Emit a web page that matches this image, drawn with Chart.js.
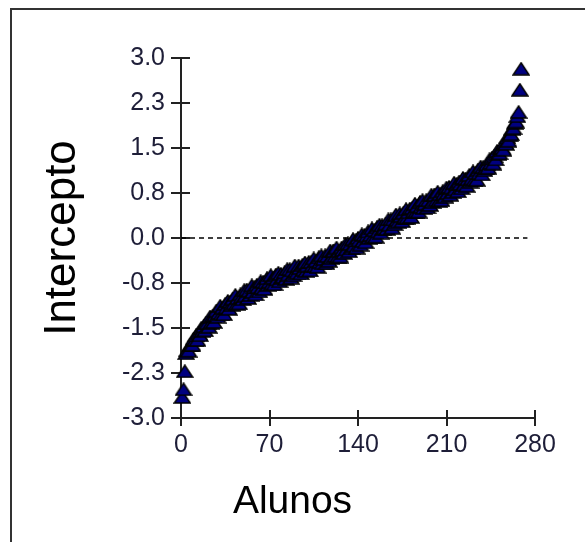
<!DOCTYPE html>
<html>
<head>
<meta charset="utf-8">
<script src="https://cdn.jsdelivr.net/npm/chart.js@4/dist/chart.umd.min.js"></script>
<style>
  html, body { margin: 0; padding: 0; background: #fff; }
  canvas { display: block; }
</style>
</head>
<body>
<canvas id="chart" width="585" height="542"></canvas>
<script>
// intercept per student, in plotting order
const interceptos = [
  -2.65, -2.52, -2.22, -1.92, -1.87, -1.88, -1.79, -1.78, -1.78, -1.68,
  -1.70, -1.62, -1.70, -1.59, -1.62, -1.50, -1.55, -1.47, -1.54, -1.41,
  -1.42, -1.48, -1.31, -1.41, -1.30, -1.40, -1.28, -1.21, -1.31, -1.25,
  -1.13, -1.27, -1.16, -1.27, -1.10, -1.16, -1.05, -1.18, -1.06, -1.11,
  -1.01, -1.09, -0.95, -1.10, -1.00, -1.09, -0.94, -0.98, -1.02, -0.87,
  -0.96, -0.86, -1.00, -0.88, -0.95, -0.79, -0.90, -0.82, -0.94, -0.78,
  -0.82, -0.89, -0.72, -0.83, -0.73, -0.85, -0.74, -0.67, -0.78, -0.73,
  -0.62, -0.76, -0.66, -0.77, -0.61, -0.69, -0.58, -0.72, -0.60, -0.66,
  -0.65, -0.57, -0.68, -0.52, -0.61, -0.52, -0.66, -0.54, -0.62, -0.46,
  -0.55, -0.58, -0.46, -0.50, -0.59, -0.45, -0.53, -0.41, -0.55, -0.46,
  -0.40, -0.54, -0.40, -0.46, -0.34, -0.47, -0.38, -0.48, -0.32, -0.40,
  -0.29, -0.42, -0.35, -0.29, -0.42, -0.30, -0.38, -0.21, -0.33, -0.22,
  -0.21, -0.30, -0.16, -0.31, -0.21, -0.31, -0.16, -0.20, -0.25, -0.10,
  -0.19, -0.09, -0.22, -0.10, -0.17, -0.02, -0.13, -0.04, -0.16, 0.00,
  -0.04, -0.11, 0.06, -0.05, 0.05, -0.07, 0.04, 0.11, 0.00, 0.05,
  0.16, 0.02, 0.13, 0.02, 0.18, 0.11, 0.22, 0.09, 0.21, 0.15,
  0.16, 0.24, 0.15, 0.31, 0.22, 0.31, 0.17, 0.31, 0.23, 0.39,
  0.30, 0.27, 0.41, 0.37, 0.28, 0.42, 0.34, 0.48, 0.34, 0.43,
  0.49, 0.35, 0.50, 0.44, 0.57, 0.44, 0.53, 0.44, 0.60, 0.52,
  0.63, 0.50, 0.57, 0.63, 0.51, 0.63, 0.55, 0.72, 0.60, 0.71,
  0.72, 0.63, 0.77, 0.62, 0.73, 0.63, 0.78, 0.74, 0.69, 0.84,
  0.75, 0.85, 0.72, 0.84, 0.77, 0.92, 0.81, 0.90, 0.78, 0.94,
  0.90, 0.83, 1.00, 0.89, 0.99, 0.87, 0.98, 1.05, 0.94, 0.99,
  1.11, 0.97, 1.08, 0.97, 1.14, 1.08, 1.19, 1.06, 1.18, 1.13,
  1.16, 1.23, 1.17, 1.31, 1.25, 1.34, 1.24, 1.36, 1.31, 1.45,
  1.40, 1.41, 1.50, 1.50, 1.47, 1.59, 1.57, 1.68, 1.62, 1.71,
  1.73, 1.82, 1.83, 1.92, 1.94, 2.03, 2.10, 2.47, 2.82
];

const xTicks = [0, 70, 140, 210, 280];
const yTicks = [-3, -2.25, -1.5, -0.75, 0, 0.75, 1.5, 2.25, 3];
const yTickLabels = ['-3.0', '-2.3', '-1.5', '-0.8', '0.0', '0.8', '1.5', '2.3', '3.0'];
const zeroLineX = [0, 274];
const xTitle = 'Alunos';
const yTitle = 'Intercepto';

const FONT = "'Liberation Sans', Arial, sans-serif";
const TICK_COLOR = '#1e1e38';
const AXIS_COLOR = '#222';

// flat navy triangle with black edge, used as the marker
function triangleMarker() {
  const c = document.createElement('canvas');
  c.width = 18;
  c.height = 14;
  const g = c.getContext('2d');
  g.beginPath();
  g.moveTo(9, 1);
  g.lineTo(17, 13);
  g.lineTo(1, 13);
  g.closePath();
  g.fillStyle = '#000080';
  g.fill();
  g.lineWidth = 1.5;
  g.strokeStyle = '#000';
  g.stroke();
  return c;
}

// frame round the figure + tick marks that cross the axis lines
const axisMarks = {
  id: 'axisMarks',
  beforeDraw(chart) {
    const ctx = chart.ctx;
    ctx.save();
    ctx.strokeStyle = '#333';
    ctx.lineWidth = 2;
    ctx.strokeRect(11, 9, 640, 600);
    ctx.restore();
  },
  beforeDatasetsDraw(chart) {
    const {ctx, scales: {x, y}} = chart;
    ctx.save();
    ctx.strokeStyle = AXIS_COLOR;
    ctx.lineWidth = 2;
    ctx.beginPath();
    xTicks.forEach(v => {
      const px = Math.round(x.getPixelForValue(v));
      ctx.moveTo(px, y.bottom - 8);
      ctx.lineTo(px, y.bottom + 8);
    });
    yTicks.forEach(v => {
      const py = Math.round(y.getPixelForValue(v));
      ctx.moveTo(x.left - 10, py);
      ctx.lineTo(x.left + 9, py);
    });
    ctx.stroke();
    ctx.restore();
  }
};

new Chart(document.getElementById('chart'), {
  data: {
    datasets: [
      {
        type: 'scatter',
        data: interceptos.map((v, i) => ({x: i + 1, y: v})),
        pointStyle: triangleMarker(),
        pointRadius: 7,
        clip: false,
        order: 1
      },
      {
        type: 'line',
        data: zeroLineX.map(v => ({x: v, y: 0})),
        borderColor: '#000',
        borderWidth: 1.5,
        borderDash: [5, 4],
        pointRadius: 0,
        order: 2
      }
    ]
  },
  options: {
    responsive: false,
    animation: false,
    devicePixelRatio: 1,
    events: [],
    layout: { padding: { top: 58, left: 0, right: 0, bottom: 0 } },
    plugins: {
      legend: { display: false },
      tooltip: { enabled: false },
      title: {
        display: true,
        position: 'bottom',
        text: xTitle,
        color: '#000',
        font: { family: FONT, size: 39, weight: 'normal', lineHeight: 1.2 },
        padding: { top: 0, bottom: 16.6 }
      }
    },
    scales: {
      x: {
        type: 'linear',
        position: 'bottom',
        min: 0,
        max: 280,
        afterBuildTicks: s => { s.ticks = xTicks.map(v => ({value: v})); },
        afterFit: s => { s.height = 60.6; },
        grid: { display: false, drawTicks: false },
        border: { display: true, color: AXIS_COLOR, width: 2 },
        ticks: {
          color: TICK_COLOR,
          padding: 12,
          maxRotation: 0,
          font: { family: FONT, size: 25 }
        }
      },
      y: {
        type: 'linear',
        position: 'left',
        min: -3,
        max: 3,
        afterBuildTicks: s => { s.ticks = yTicks.map(v => ({value: v})); },
        afterFit: s => { s.width = 181; },
        grid: { display: false, drawTicks: false },
        border: { display: true, color: AXIS_COLOR, width: 2 },
        ticks: {
          color: TICK_COLOR,
          padding: 16,
          font: { family: FONT, size: 25 },
          callback: (v, i) => yTickLabels[i]
        },
        title: {
          display: true,
          text: yTitle,
          color: '#000',
          font: { family: FONT, size: 44, lineHeight: 1.0 },
          padding: { top: 41, bottom: 0 }
        }
      },
      // empty spacer on the right so the plot ends at 280 like the picture
      yRight: {
        type: 'linear',
        position: 'right',
        min: -3,
        max: 3,
        afterFit: s => { s.width = 50; },
        grid: { display: false, drawTicks: false },
        border: { display: false },
        ticks: { display: false }
      }
    }
  },
  plugins: [axisMarks]
});
</script>
</body>
</html>
